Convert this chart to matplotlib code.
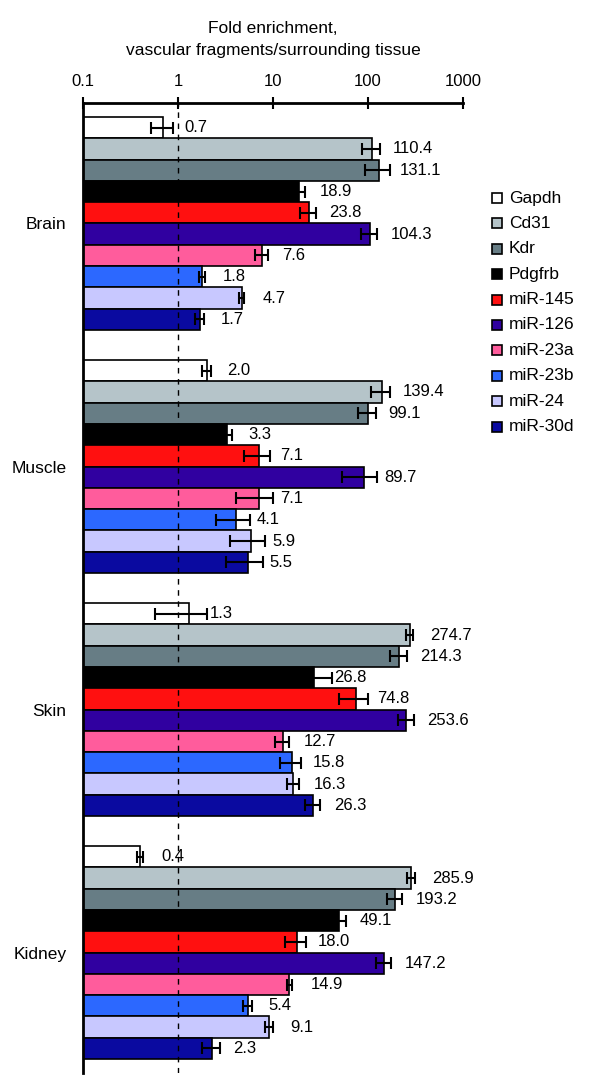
import matplotlib.pyplot as plt
import numpy as np
from matplotlib.patches import Rectangle

plt.rcParams['font.family'] = ['Liberation Sans', 'DejaVu Sans']

tissues = ["Brain", "Muscle", "Skin", "Kidney"]
genes = ["Gapdh", "Cd31", "Kdr", "Pdgfrb", "miR-145", "miR-126",
         "miR-23a", "miR-23b", "miR-24", "miR-30d"]
colors = ["#ffffff", "#b5c4c9", "#677d85", "#000000", "#ff1010",
          "#3000a0", "#ff5c9c", "#2c68ff", "#c8c8ff", "#0a0aa0"]

brain = [0.7, 110.4, 131.1, 18.9, 23.8, 104.3, 7.6, 1.8, 4.7, 1.7]
muscle = [2.0, 139.4, 99.1, 3.3, 7.1, 89.7, 7.1, 4.1, 5.9, 5.5]
skin = [1.3, 274.7, 214.3, 26.8, 74.8, 253.6, 12.7, 15.8, 16.3, 26.3]
kidney = [0.4, 285.9, 193.2, 49.1, 18.0, 147.2, 14.9, 5.4, 9.1, 2.3]

brain_err = [0.18, 23, 39, 3, 4.5, 20, 1.2, 0.12, 0.3, 0.2]
muscle_err = [0.2, 32, 21, 0.4, 2.2, 36, 3.0, 1.6, 2.4, 2.3]
skin_err = [0.73, 25, 44, 15, 25, 48, 2.1, 4.0, 2.4, 4.8]
kidney_err = [0.03, 30, 33, 9, 4.5, 27, 1.0, 0.6, 0.8, 0.5]

values = [brain, muscle, skin, kidney]
errors = [brain_err, muscle_err, skin_err, kidney_err]

W, H = 600, 1089
fig = plt.figure(figsize=(W / 100, H / 100), dpi=100)
ax = fig.add_axes([83 / W, 1 - 1073 / H, 380 / W, 970 / H])

base = 0.1
period = 11.41
for g in range(len(tissues)):
    ys = g * period + np.arange(len(genes))
    v = np.array(values[g])
    ax.barh(ys, v - base, height=1.0, left=base, color=colors,
            edgecolor="black", linewidth=1.2, zorder=2)
    ax.errorbar(v, ys, xerr=errors[g], fmt="none", ecolor="black",
                elinewidth=1.5, capsize=4, capthick=1.5, zorder=3)
    for y, val in zip(ys, v):
        ax.annotate(f"{val:.1f}", (val, y), xytext=(15, 0), textcoords="offset points",
                    va="center", ha="left", fontsize=12)

ax.set_xscale("log")
ax.set_xlim(base, 1000)
ax.set_ylim(-1.157 + 970 / 21.3, -1.157)
ax.axvline(1, color="black", linestyle=(0, (4, 4)), linewidth=1, zorder=4)

ax.set_xticks([0.1, 1, 10, 100, 1000])
ax.set_xticklabels(["0.1", "1", "10", "100", "1000"])
ax.xaxis.set_minor_locator(plt.NullLocator())
ax.xaxis.tick_top()
ax.xaxis.set_label_position("top")
ax.tick_params(axis="x", direction="inout", length=8, width=1.5,
               labelsize=12, pad=6)
ax.set_xlabel("Fold enrichment,\nvascular fragments/surrounding tissue",
              fontsize=12.5, labelpad=14, linespacing=1.55)

ax.set_yticks([g * period + 4.5 for g in range(len(tissues))])
ax.set_yticklabels(tissues, fontsize=12.5)
ax.tick_params(axis="y", length=0, pad=12)

for s in ["right", "bottom"]:
    ax.spines[s].set_visible(False)
ax.spines["top"].set_linewidth(2)
ax.spines["left"].set_linewidth(2)

# legend drawn by hand, one square and label per gene
for i, (name, c) in enumerate(zip(genes, colors)):
    yc = 198 + i * 25.4
    fig.patches.append(Rectangle((492 / W, 1 - (yc + 5) / H), 10 / W, 10 / H,
                                 transform=fig.transFigure, facecolor=c,
                                 edgecolor="black", linewidth=1.2))
    fig.text(509 / W, 1 - yc / H, name, fontsize=12.5, va="center", ha="left")

fig.savefig("out.png", dpi=100)
